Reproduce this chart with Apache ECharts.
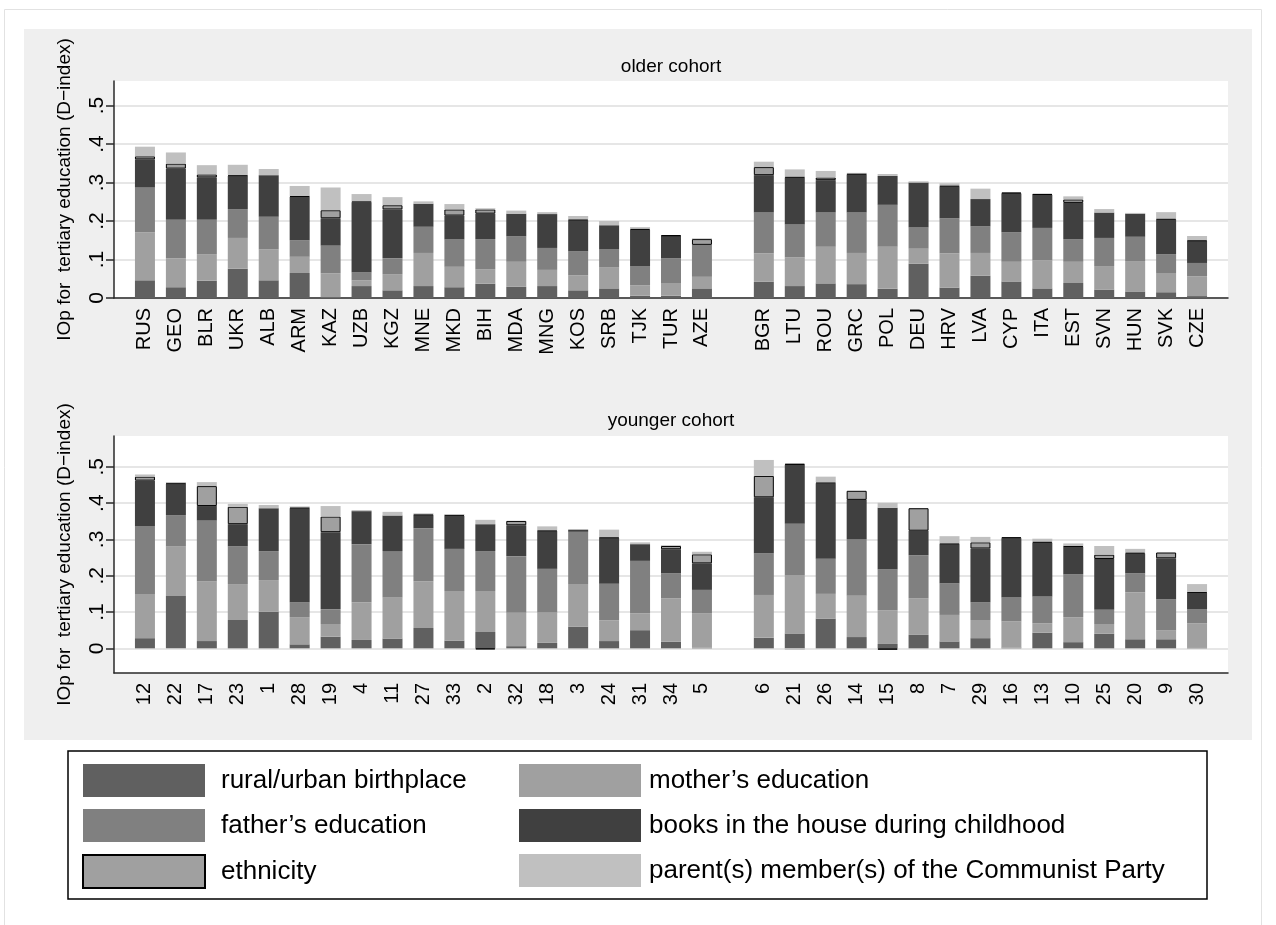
<!DOCTYPE html>
<html>
<head>
<meta charset="utf-8">
<script src="https://cdn.jsdelivr.net/npm/echarts@6/dist/echarts.min.js"></script>
<style>
  html, body { margin: 0; padding: 0; background: #ffffff; }
  #chart { width: 1276px; height: 925px; }
</style>
</head>
<body>
<div id="chart"></div>
<script>
// Countries in the older-cohort panel: post-Soviet / Balkan block, then EU block
const olderGroupA = ['RUS', 'GEO', 'BLR', 'UKR', 'ALB', 'ARM', 'KAZ', 'UZB', 'KGZ', 'MNE', 'MKD', 'BIH', 'MDA', 'MNG', 'KOS', 'SRB', 'TJK', 'TUR', 'AZE'];
const olderGroupB = ['BGR', 'LTU', 'ROU', 'GRC', 'POL', 'DEU', 'HRV', 'LVA', 'CYP', 'ITA', 'EST', 'SVN', 'HUN', 'SVK', 'CZE'];

// Younger-cohort panel is labelled with country numbers
const youngerGroupA = ['12', '22', '17', '23', '1', '28', '19', '4', '11', '27', '33', '2', '32', '18', '3', '24', '31', '34', '5'];
const youngerGroupB = ['6', '21', '26', '14', '15', '8', '7', '29', '16', '13', '10', '25', '20', '9', '30'];

// Legend / factor names (stack order, bottom to top)
const factorNames = [
  'rural/urban birthplace',
  'mother\u2019s education',
  'father\u2019s education',
  'books in the house during childhood',
  'ethnicity',
  'parent(s) member(s) of the Communist Party'
];

// Older cohort contributions (group A then group B)
const olderRural  = [0.046, 0.028, 0.045, 0.076, 0.046, 0.065, 0.002, 0.031, 0.020, 0.031, 0.028, 0.037, 0.029, 0.031, 0.020, 0.025, 0.006, 0.006, 0.025,
                     0.042, 0.031, 0.038, 0.036, 0.024, 0.089, 0.027, 0.058, 0.043, 0.025, 0.039, 0.022, 0.017, 0.015, 0.005];
const olderMother = [0.125, 0.075, 0.069, 0.080, 0.080, 0.042, 0.062, 0.015, 0.042, 0.086, 0.053, 0.038, 0.065, 0.042, 0.039, 0.054, 0.027, 0.033, 0.030,
                     0.074, 0.075, 0.095, 0.081, 0.109, 0.039, 0.089, 0.059, 0.051, 0.073, 0.055, 0.061, 0.079, 0.050, 0.051];
const olderFather = [0.117, 0.100, 0.089, 0.075, 0.085, 0.043, 0.072, 0.021, 0.041, 0.068, 0.071, 0.078, 0.066, 0.057, 0.062, 0.047, 0.050, 0.064, 0.083,
                     0.106, 0.085, 0.089, 0.105, 0.109, 0.056, 0.091, 0.069, 0.077, 0.084, 0.059, 0.073, 0.063, 0.049, 0.035];
const olderBooks  = [0.072, 0.133, 0.110, 0.086, 0.108, 0.113, 0.071, 0.182, 0.127, 0.060, 0.062, 0.066, 0.059, 0.088, 0.081, 0.063, 0.094, 0.058, 0.000,
                     0.097, 0.122, 0.084, 0.099, 0.075, 0.116, 0.083, 0.071, 0.100, 0.086, 0.094, 0.066, 0.060, 0.090, 0.057];
const olderEthnic = [0.008, 0.013, 0.008, 0.002, 0.000, 0.002, 0.021, 0.002, 0.011, 0.000, 0.016, 0.011, 0.000, 0.000, 0.002, 0.000, 0.003, 0.002, 0.015,
                     0.021, 0.002, 0.007, 0.002, 0.000, 0.000, 0.002, 0.000, 0.003, 0.002, 0.009, 0.000, 0.000, 0.002, 0.002];
const olderParty  = [0.025, 0.029, 0.024, 0.027, 0.016, 0.026, 0.059, 0.019, 0.021, 0.006, 0.014, 0.003, 0.008, 0.005, 0.009, 0.011, 0.004, 0.000, 0.002,
                     0.014, 0.019, 0.017, 0.002, 0.005, 0.003, 0.006, 0.027, 0.000, 0.000, 0.008, 0.009, 0.002, 0.017, 0.011];

// Younger cohort contributions (group A then group B)
const youngRural  = [0.028, 0.144, 0.020, 0.078, 0.101, 0.011, 0.032, 0.023, 0.027, 0.056, 0.021, 0.045, 0.006, 0.015, 0.060, 0.020, 0.050, 0.018, 0.002,
                     0.029, 0.041, 0.082, 0.031, 0.012, 0.037, 0.019, 0.028, 0.002, 0.043, 0.017, 0.040, 0.025, 0.025, 0.001];
const youngMother = [0.122, 0.137, 0.164, 0.099, 0.087, 0.075, 0.035, 0.103, 0.114, 0.129, 0.137, 0.113, 0.092, 0.084, 0.117, 0.057, 0.047, 0.120, 0.095,
                     0.118, 0.161, 0.068, 0.114, 0.093, 0.101, 0.073, 0.050, 0.072, 0.026, 0.069, 0.027, 0.129, 0.024, 0.068];
const youngFather = [0.187, 0.086, 0.168, 0.104, 0.080, 0.040, 0.041, 0.161, 0.127, 0.146, 0.116, 0.110, 0.156, 0.120, 0.144, 0.101, 0.144, 0.069, 0.064,
                     0.115, 0.141, 0.097, 0.156, 0.112, 0.118, 0.087, 0.048, 0.066, 0.074, 0.118, 0.039, 0.053, 0.086, 0.038];
const youngBooks  = [0.125, 0.086, 0.040, 0.061, 0.118, 0.260, 0.212, 0.091, 0.098, 0.036, 0.091, 0.074, 0.085, 0.104, 0.006, 0.126, 0.046, 0.066, 0.073,
                     0.154, 0.163, 0.208, 0.108, 0.170, 0.068, 0.108, 0.149, 0.163, 0.148, 0.076, 0.140, 0.054, 0.113, 0.046];
const youngEthnic = [0.011, 0.002, 0.055, 0.048, 0.000, 0.002, 0.043, 0.000, 0.000, 0.002, 0.002, -0.003, 0.012, 0.002, 0.000, 0.002, 0.000, 0.009, 0.025,
                     0.059, 0.002, 0.002, 0.025, -0.004, 0.062, 0.002, 0.017, 0.003, 0.003, 0.002, 0.012, 0.003, 0.016, 0.002];
const youngParty  = [0.006, 0.003, 0.011, 0.008, 0.009, 0.003, 0.029, 0.003, 0.010, 0.003, 0.003, 0.012, 0.000, 0.011, 0.000, 0.021, 0.005, 0.002, 0.007,
                     0.044, -0.004, 0.016, 0.000, 0.014, 0.000, 0.020, 0.015, 0.000, 0.008, 0.007, 0.024, 0.010, 0.000, 0.022];

// Y-axis ticks and their labels
const yTickValues = [0, 0.1, 0.2, 0.3, 0.4, 0.5];
const yTickLabels = ['0', '.1', '.2', '.3', '.4', '.5'];

const panelTitles = ['older cohort', 'younger cohort'];
const yTitle = 'IOp for  tertiary education (D\u2212index)';

// ---- styling ----
const factorColors = ['#606060', '#a0a0a0', '#808080', '#404040', '#a0a0a0', '#c0c0c0'];
const axisColor = '#2a2a2a';
const FONT = 'Liberation Sans, Arial, Helvetica, sans-serif';

// blank slots pad both ends and separate the two country blocks
const nA = olderGroupA.length;
function categories(a, b) { return [''].concat(a, [' '], b, ['  ']); }
function padSeries(vals, dropZero) {
  const v = vals.map(x => (dropZero && x === 0) ? null : x);
  return [null].concat(v.slice(0, nA), [null], v.slice(nA), [null]);
}

const panelData = [
  [olderRural, olderMother, olderFather, olderBooks, olderEthnic, olderParty],
  [youngRural, youngMother, youngFather, youngBooks, youngEthnic, youngParty]
];
const panelCats = [categories(olderGroupA, olderGroupB), categories(youngerGroupA, youngerGroupB)];

const series = [];
panelData.forEach((arrs, p) => {
  arrs.forEach((vals, f) => {
    const isEthnic = f === 4;
    series.push({
      type: 'bar',
      name: factorNames[f],
      xAxisIndex: p,
      yAxisIndex: p,
      stack: 'panel' + p,
      barWidth: 20,
      data: padSeries(vals, isEthnic),
      itemStyle: {
        color: factorColors[f],
        borderColor: isEthnic ? '#000000' : factorColors[f],
        borderWidth: isEthnic ? 1 : 0
      },
      emphasis: { disabled: true },
      animation: false
    });
  });
});

const grids = [
  { left: 114, top: 81, width: 1114, height: 217, show: true, backgroundColor: '#ffffff', borderWidth: 0 },
  { left: 114, top: 436, width: 1114, height: 237, show: true, backgroundColor: '#ffffff', borderWidth: 0 }
];
const yRanges = [[0, 0.5636], [-0.068, 0.585]];

const xAxes = panelCats.map((cats, p) => ({
  gridIndex: p,
  type: 'category',
  data: cats,
  boundaryGap: false,
  axisLine: { onZero: false, lineStyle: { color: axisColor, width: 1.5 } },
  axisTick: { show: false },
  axisLabel: { interval: 0, rotate: 90, margin: 10, fontSize: 20, color: '#000', fontFamily: FONT },
  splitLine: { show: false }
}));

const yAxes = yRanges.map((r, p) => ({
  gridIndex: p,
  type: 'value',
  min: r[0],
  max: r[1],
  name: yTitle,
  nameLocation: 'middle',
  nameGap: 40,
  nameTextStyle: { fontSize: 19, color: '#000', fontFamily: FONT },
  axisLine: { show: true, lineStyle: { color: axisColor, width: 1.5 } },
  axisTick: { show: true, length: 8, customValues: yTickValues, lineStyle: { color: axisColor, width: 1.5 } },
  axisLabel: {
    customValues: yTickValues,
    rotate: 90, margin: 6, fontSize: 21, color: '#000', fontFamily: FONT,
    formatter: v => {
      const i = yTickValues.findIndex(t => Math.abs(t - v) < 1e-6);
      return i >= 0 ? yTickLabels[i] : '';
    }
  },
  splitLine: { show: true, lineStyle: { color: '#e6e6e6', width: 2 } }
}));

// Legend in two columns inside one framed box
const legendColumns = [
  [factorNames[0], factorNames[2], factorNames[4]],
  [factorNames[1], factorNames[3], factorNames[5]]
];
const legendColumnLeft = [82, 519];
const legendTextGap = [11, 3];
const legends = legendColumns.map((names, c) => ({
  data: names,
  selectedMode: false,
  orient: 'vertical',
  left: legendColumnLeft[c],
  top: 764,
  padding: 0,
  itemWidth: 122,
  itemHeight: 33,
  itemGap: 12,
  icon: 'rect',
  textStyle: { color: '#000', fontFamily: FONT, fontSize: 26, padding: [0, 0, 0, legendTextGap[c]] }
}));

const panelTitleY = [67, 421];
const graphics = [
  { type: 'rect', z: -20, shape: { x: 4.5, y: 9.5, width: 1257, height: 930 },
    style: { fill: '#ffffff', stroke: '#e2e2e2', lineWidth: 1 }, silent: true },
  { type: 'rect', z: -10, shape: { x: 24, y: 29, width: 1228, height: 711 },
    style: { fill: '#efefef' }, silent: true },
  { type: 'rect', z: -10, shape: { x: 68, y: 751, width: 1139, height: 148 },
    style: { fill: '#ffffff', stroke: '#000000', lineWidth: 1.5 }, silent: true }
].concat(panelTitles.map((t, p) => ({
  type: 'text', z: 5, silent: true,
  style: { text: t, x: 671, y: panelTitleY[p], align: 'center', verticalAlign: 'middle',
           fill: '#000', font: '19px ' + FONT }
})));

const chart = echarts.init(document.getElementById('chart'), null, { renderer: 'canvas' });
chart.setOption({
  animation: false,
  backgroundColor: '#ffffff',
  textStyle: { fontFamily: FONT },
  grid: grids,
  xAxis: xAxes,
  yAxis: yAxes,
  legend: legends,
  graphic: { elements: graphics },
  series: series
});
</script>
</body>
</html>
